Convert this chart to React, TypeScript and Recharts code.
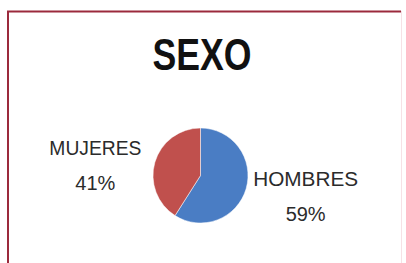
import { PieChart, Pie, Cell } from 'recharts';

const names = ['HOMBRES', 'MUJERES'];
const values = [59, 41];
const colors = ['#4A7DC4', '#C0504D'];

const chartData = names.map((name, i) => ({ name, value: values[i] }));

const RADIAN = Math.PI / 180;

// Excel-style outside label: name on first line, percentage below
const renderLabel = ({ cx, cy, midAngle, outerRadius, name, percent }: any) => {
  const r = outerRadius + 62;
  const x = cx + r * Math.cos(-midAngle * RADIAN);
  const y = cy + 0.5 * r * Math.sin(-midAngle * RADIAN) - 2;
  return (
    <text
      x={x}
      y={y}
      textAnchor="middle"
      fill="#2b2b2b"
      fontSize={20}
      fontFamily="'Liberation Sans', Arial, sans-serif"
    >
      <tspan x={x} dy={-3} textLength={names.indexOf(name) === 0 ? 105 : 92} lengthAdjust="spacingAndGlyphs">{name}</tspan>
      <tspan x={x} dy={35}>{`${Math.round(percent * 100)}%`}</tspan>
    </text>
  );
};

export default function App() {
  return (
    <div style={{ position: 'absolute', left: 0, top: 0, width: 406, height: 263, background: '#fff' }}>
      <PieChart width={406} height={263} margin={{ top: 0, right: 0, bottom: 0, left: 0 }}>
        <rect x={7.5} y={11.5} width={394} height={260} fill="none" stroke="#f6e2e6" strokeWidth={1} />
        <line x1={7} y1={11.5} x2={401} y2={11.5} stroke="#9b2a3c" strokeWidth={2} />
        <line x1={8} y1={11} x2={8} y2={263} stroke="#9b2a3c" strokeWidth={2} />
        <text
          x={202}
          y={70}
          textAnchor="middle"
          fontSize={44}
          fontWeight="bold"
          fill="#111"
          textLength={99}
          lengthAdjust="spacingAndGlyphs"
          fontFamily="'Liberation Sans', Arial, sans-serif"
        >
          SEXO
        </text>
        <Pie
          data={chartData}
          dataKey="value"
          nameKey="name"
          cx={200.5}
          cy={175.5}
          outerRadius={47.5}
          startAngle={90}
          endAngle={-270}
          stroke="#fff"
          strokeWidth={0.5}
          labelLine={false}
          label={renderLabel}
          isAnimationActive={false}
        >
          {chartData.map((entry, index) => (
            <Cell key={`cell-${index}`} fill={colors[index]} />
          ))}
        </Pie>
      </PieChart>
    </div>
  );
}
